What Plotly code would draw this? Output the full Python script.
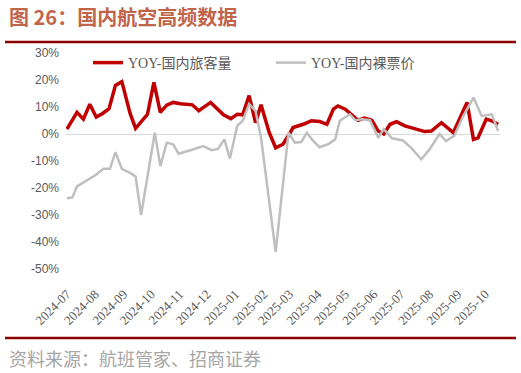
import plotly.graph_objects as go

# YOY-国内旅客量 (domestic passenger volume, YoY %)
pax_dates = ["2024-07-01","2024-07-12","2024-07-19","2024-07-26","2024-08-02","2024-08-09",
             "2024-08-16","2024-08-23","2024-08-30","2024-09-08","2024-09-14","2024-09-21",
             "2024-09-27","2024-10-04","2024-10-11","2024-10-18","2024-10-25","2024-11-02",
             "2024-11-15","2024-11-22","2024-12-05","2024-12-19","2024-12-27","2025-01-03",
             "2025-01-09","2025-01-16","2025-01-23","2025-01-29","2025-02-07","2025-02-14",
             "2025-02-22","2025-03-01","2025-03-05","2025-03-16","2025-03-25","2025-04-03",
             "2025-04-11","2025-04-18","2025-04-23","2025-05-01","2025-05-08","2025-05-15",
             "2025-05-22","2025-05-30","2025-06-06","2025-06-12","2025-06-19","2025-06-26",
             "2025-07-05","2025-07-16","2025-07-27","2025-08-03","2025-08-14","2025-08-27",
             "2025-09-11","2025-09-18","2025-09-23","2025-10-02","2025-10-08","2025-10-15"]
pax_yoy = [1.8, 8.0, 5.5, 11.0, 6.3, 7.6,
           9.4, 18.0, 19.4, 7.6, 2.1, 4.9,
           7.3, 19.1, 8.0, 10.7, 11.7, 11.2,
           10.8, 8.6, 11.7, 7.1, 5.7, 7.3,
           7.1, 14.2, 4.2, 10.8, 0.5, -5.1,
           -3.8, 0.0, 2.4, 3.6, 4.9, 4.6,
           3.6, 9.2, 10.4, 9.2, 7.3, 5.1,
           5.9, 5.1, 1.1, 0.0, 3.6, 4.6,
           3.0, 1.8, 0.9, 1.1, 4.2, 0.5,
           11.7, -2.0, -1.4, 5.5, 4.9, 3.6]

# YOY-国内裸票价 (domestic net fare, YoY %)
fare_dates = ["2024-07-01","2024-07-07","2024-07-12","2024-07-22","2024-08-01","2024-08-10",
              "2024-08-17","2024-08-23","2024-08-30","2024-09-08","2024-09-14","2024-09-20",
              "2024-10-05","2024-10-11","2024-10-18","2024-10-25","2024-10-31","2024-11-13",
              "2024-11-27","2024-12-06","2024-12-13","2024-12-20","2024-12-26","2025-01-03",
              "2025-01-09","2025-01-16","2025-01-23","2025-01-29","2025-02-14","2025-02-28",
              "2025-03-07","2025-03-14","2025-03-20","2025-03-27","2025-04-03","2025-04-12",
              "2025-04-20","2025-04-25","2025-05-06","2025-05-12","2025-05-19","2025-05-28",
              "2025-06-06","2025-06-12","2025-06-21","2025-07-03","2025-07-12","2025-07-23",
              "2025-08-01","2025-08-12","2025-08-19","2025-08-28","2025-09-06","2025-09-18",
              "2025-09-27","2025-10-08","2025-10-15"]
fare_yoy = [-23.8, -23.5, -19.4, -17.5, -15.3, -12.9,
            -12.9, -6.7, -12.9, -14.4, -15.7, -30.0,
            0.5, -11.9, -3.2, -3.8, -7.3, -6.0,
            -4.5, -6.0, -5.5, -2.0, -9.1, 3.0,
            4.9, 11.1, 8.6, -1.4, -43.7, 0.5,
            -3.2, -3.0, 0.5, -2.6, -4.9, -3.8,
            -2.0, 4.9, 7.3, 5.1, 5.5, 5.1,
            -1.4, 1.8, -1.6, -2.4, -5.1, -9.4,
            -5.7, 0.0, -2.6, -0.7, 6.1, 13.5,
            6.7, 7.3, 1.1]

y_ticks = [30, 20, 10, 0, -10, -20, -30, -40, -50]
y_tick_text = ["30%", "20%", "10%", "0%", "-10%", "-20%", "-30%", "-40%", "-50%"]
month_ticks = ["2024-07-01","2024-08-01","2024-09-01","2024-10-01","2024-11-01","2024-12-01",
               "2025-01-01","2025-02-01","2025-03-01","2025-04-01","2025-05-01","2025-06-01",
               "2025-07-01","2025-08-01","2025-09-01","2025-10-01"]
month_labels = [d[:7] for d in month_ticks]

fig = go.Figure()
fig.add_trace(go.Scatter(x=pax_dates, y=pax_yoy, mode="lines", name="YOY-国内旅客量",
                         line=dict(color="#C00000", width=3.5)))
fig.add_trace(go.Scatter(x=fare_dates, y=fare_yoy, mode="lines", name="YOY-国内裸票价",
                         line=dict(color="#BFBFBF", width=2.5)))

W, H = 521, 373
L, R, T, B = 66, 21, 53, 104
pw, ph = W - L - R, H - T - B

def px(x):
    return (x - L) / pw

def py(y):
    return (H - B - y) / ph

fig.update_layout(
    width=W, height=H,
    margin=dict(l=L, r=R, t=T, b=B),
    paper_bgcolor="white", plot_bgcolor="white",
    font=dict(family="Liberation Serif, Noto Sans CJK SC", color="#595959"),
    showlegend=True,
    legend=dict(orientation="h", x=px(88), y=py(63), xanchor="left", yanchor="middle",
                font=dict(size=14, color="#595959", family="Liberation Serif, Noto Sans CJK SC"),
                bgcolor="rgba(0,0,0,0)", entrywidth=138, entrywidthmode="pixels",
                itemwidth=30),
    xaxis=dict(type="date", range=["2024-06-30", "2025-10-17"],
               tickvals=month_ticks, ticktext=month_labels, tickangle=-45,
               tickfont=dict(size=13, family="Liberation Serif", color="#595959"),
               showgrid=False, zeroline=False, showline=False, ticks="",
               ticklabelstandoff=14),
    yaxis=dict(range=[-50, 30], tickvals=y_ticks, ticktext=y_tick_text,
               tickfont=dict(size=12, family="Liberation Sans", color="#595959"),
               showgrid=False, zeroline=True, zerolinecolor="#D9D9D9", zerolinewidth=1,
               showline=False, ticks="", ticklabelstandoff=6),
    shapes=[
        dict(type="line", xref="paper", yref="paper", x0=px(5), x1=px(516), y0=py(42), y1=py(42),
             line=dict(color="#8B0000", width=2.5)),
        dict(type="line", xref="paper", yref="paper", x0=px(5), x1=px(516), y0=py(338), y1=py(338),
             line=dict(color="#8B0000", width=2.5)),
    ],
    annotations=[
        dict(text="<b>图 26：国内航空高频数据</b>", xref="paper", yref="paper",
             x=px(7), y=py(17), xanchor="left", yanchor="middle", showarrow=False,
             font=dict(size=20, color="#C0644A", family="Noto Sans CJK SC")),
        dict(text="资料来源：航班管家、招商证券", xref="paper", yref="paper",
             x=px(7), y=py(358), xanchor="left", yanchor="middle", showarrow=False,
             font=dict(size=18, color="#A6A6A6", family="Noto Sans CJK SC")),
    ],
)

fig.write_html("out.html")
